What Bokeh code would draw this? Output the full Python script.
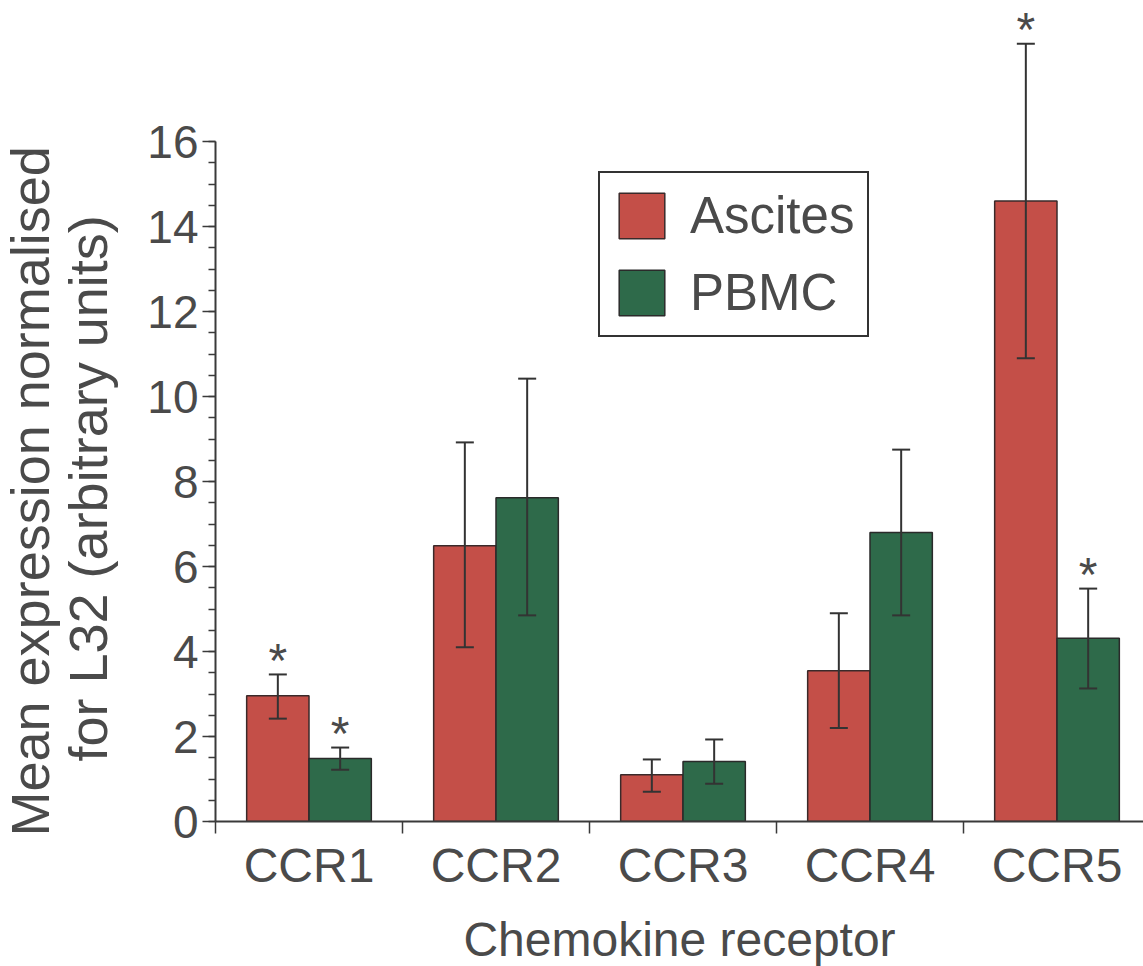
import numpy as np
from bokeh.plotting import figure
from bokeh.models import (ColumnDataSource, Range1d, FixedTicker, Whisker, TeeHead,
                          Title, Legend, LegendItem)
from bokeh.core.properties import value
from bokeh.embed import file_html
from bokeh.resources import INLINE

# ---------------- data ----------------
categories = ["CCR1", "CCR2", "CCR3", "CCR4", "CCR5"]
ascites_mean = [2.96, 6.49, 1.10, 3.55, 14.60]
ascites_lower = [2.42, 4.10, 0.70, 2.20, 10.90]
ascites_upper = [3.46, 8.92, 1.46, 4.90, 18.30]
pbmc_mean = [1.48, 7.62, 1.41, 6.80, 4.31]
pbmc_lower = [1.22, 4.85, 0.89, 4.85, 3.13]
pbmc_upper = [1.74, 10.42, 1.93, 8.75, 5.48]
ascites_signif = [True, False, False, False, True]
pbmc_signif = [True, False, False, False, True]
y_ticks = [0, 2, 4, 6, 8, 10, 12, 14, 16]
series_names = ["Ascites", "PBMC"]
x_title = "Chemokine receptor"
y_title = ["Mean expression normalised", "for L32 (arbitrary units)"]

RED = "#c44f48"
GREEN = "#2e6a4a"
TXT = "#4a4a4a"
AX = "#3a3a3a"
FONT = "Liberation Sans"

centers = np.arange(len(categories)) + 0.5
bw = 1.0 / 3.0

src_a = ColumnDataSource(dict(x=centers - bw / 2, top=ascites_mean,
                              lo=ascites_lower, hi=ascites_upper))
src_p = ColumnDataSource(dict(x=centers + bw / 2, top=pbmc_mean,
                              lo=pbmc_lower, hi=pbmc_upper))

frame_w, frame_h = 928, 821
px_per_cat = 187.0
px_per_unit = 42.5

p = figure(frame_width=frame_w, frame_height=frame_h,
           min_border_left=215, min_border_right=0, min_border_top=0,
           min_border_bottom=145,
           x_range=Range1d(0, frame_w / px_per_cat),
           y_range=Range1d(0, frame_h / px_per_unit),
           output_backend="svg", toolbar_location=None,
           background_fill_color="white", border_fill_color="white")
p.outline_line_color = None
p.grid.visible = False

ra = p.vbar(x="x", top="top", width=bw, source=src_a, fill_color=RED,
            line_color="#3a2a2a", line_width=1.5)
rp = p.vbar(x="x", top="top", width=bw, source=src_p, fill_color=GREEN,
            line_color="#2a2a2a", line_width=1.5)

for src in (src_a, src_p):
    w = Whisker(base="x", lower="lo", upper="hi", source=src, level="overlay",
                line_color="#333333", line_width=2,
                upper_head=TeeHead(size=18, line_color="#333333", line_width=2),
                lower_head=TeeHead(size=18, line_color="#333333", line_width=2))
    p.add_layout(w)

# asterisks
sx, sy = [], []
for i in range(len(categories)):
    if ascites_signif[i]:
        sx.append(centers[i] - bw / 2); sy.append(ascites_upper[i])
    if pbmc_signif[i]:
        sx.append(centers[i] + bw / 2); sy.append(pbmc_upper[i])
p.text(x=sx, y=sy, text=["*"] * len(sx), text_font=value(FONT),
       text_font_size="48px", text_color=TXT, text_align="center",
       text_baseline="alphabetic", y_offset=-14)

# axes
xa = p.xaxis[0]
xa.ticker = FixedTicker(ticks=list(centers), minor_ticks=list(range(len(categories))))
xa.major_label_overrides = {float(c): lab for c, lab in zip(centers, categories)}
xa.major_tick_line_color = None
xa.major_tick_out = 0
xa.major_tick_in = 0
xa.minor_tick_out = 12
xa.minor_tick_in = 0
xa.minor_tick_line_color = AX
xa.minor_tick_line_width = 1.5
xa.axis_line_color = AX
xa.axis_line_width = 2
xa.major_label_text_font = FONT
xa.major_label_text_font_size = "48px"
xa.major_label_text_color = TXT
xa.major_label_standoff = 5
xa.axis_label = x_title
xa.axis_label_text_font = FONT
xa.axis_label_text_font_size = "48px"
xa.axis_label_text_font_style = "normal"
xa.axis_label_text_color = TXT
xa.axis_label_standoff = 18

ya = p.yaxis[0]
ya.ticker = FixedTicker(ticks=y_ticks,
                        minor_ticks=[t / 2 for t in range(0, 33)])
ya.bounds = (0, 16)
ya.major_tick_out = 13
ya.major_tick_in = 0
ya.minor_tick_out = 7
ya.minor_tick_in = 0
ya.major_tick_line_color = AX
ya.minor_tick_line_color = AX
ya.major_tick_line_width = 1.5
ya.minor_tick_line_width = 1.5
ya.axis_line_color = AX
ya.axis_line_width = 2
ya.major_label_text_font = FONT
ya.major_label_text_font_size = "46px"
ya.major_label_text_color = TXT
ya.major_label_standoff = 4

# y title (two lines, innermost first)
t2 = Title(text=y_title[1], align="left", offset=60, standoff=54,
           text_font=FONT, text_font_size="54px",
           text_font_style="normal", text_color=TXT)
t1 = Title(text=y_title[0], align="left", offset=-15, standoff=0,
           text_font=FONT, text_font_size="54px",
           text_font_style="normal", text_color=TXT)
try:
    t1.standoff = -62
except Exception:
    t1.standoff = 0
p.add_layout(t2, "left")
p.add_layout(t1, "left")

legend = Legend(items=[LegendItem(label=series_names[0], renderers=[ra]),
                       LegendItem(label=series_names[1], renderers=[rp])],
                location=(383, 484), orientation="vertical",
                glyph_width=57, glyph_height=57, label_standoff=20,
                padding=13, spacing=18, margin=0,
                label_text_font=FONT, label_text_font_size="51px",
                label_text_color=TXT,
                border_line_color="#333333", border_line_width=2,
                border_line_alpha=1.0,
                background_fill_color="white", background_fill_alpha=1.0)
p.add_layout(legend)

open("out.html", "w").write(file_html(p, INLINE))
